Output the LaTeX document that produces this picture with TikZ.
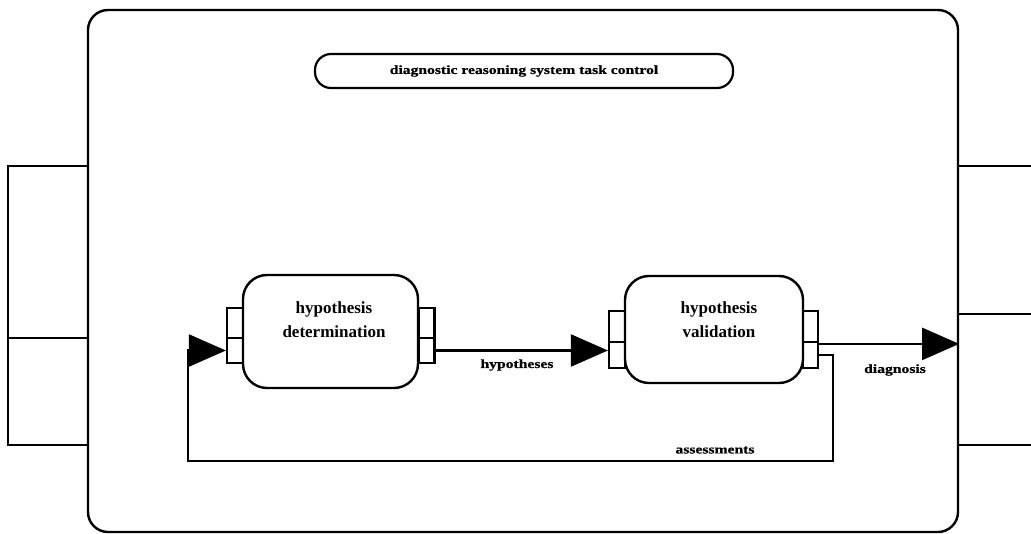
\documentclass[tikz,border=0pt]{standalone}
\usepackage{fontspec}
\setmainfont{Liberation Serif}
\newfontfamily\labfont[FakeStretch=1.25,FakeBold=0.6]{Liberation Serif}
\usetikzlibrary{arrows.meta}
\tikzset{
  frame/.style={draw, line width=2.4pt, rounded corners=20pt},
  proc/.style={draw, line width=2.4pt, rounded corners=24pt, inner sep=0pt},
  porthalf/.style={draw, line width=2.2pt, inner sep=0pt, minimum width=16pt},
  pill/.style={draw, line width=2.2pt, rounded corners=16pt, inner sep=0pt, minimum width=418pt, minimum height=34pt},
  boxtext/.style={align=center, inner sep=0pt, font=\fontsize{17}{24}\selectfont\bfseries},
  flowlabel/.style={inner sep=0pt, font=\labfont\fontsize{12.5}{14}\selectfont\bfseries},
  flow/.style={line width=2.2pt, -{Triangle[length=37pt,width=32pt]}},
  sideline/.style={line width=2.2pt}
}
\begin{document}
\begin{tikzpicture}[x=1pt,y=-1pt]
\useasboundingbox (0,0) rectangle (1031,534);
% outer system frame
\node[frame, minimum width=870pt, minimum height=522pt, inner sep=0pt] (sys) at (523,271) {};
% left side ports
\node[draw, sideline, minimum width=80pt, minimum height=172pt, inner sep=0pt] (inA) at (48,252) {};
\node[draw, sideline, minimum width=80pt, minimum height=107pt, inner sep=0pt] (inB) at (48,391.5) {};
% right side ports (open to the right)
\coordinate (rA) at (958,166);
\coordinate (rB) at (958,314);
\coordinate (rC) at (958,445);
\draw[sideline] (rA) -- (1035,166);
\draw[sideline] (rB) -- (1035,314);
\draw[sideline] (rC) -- (1035,445);
% title
\node[pill, font=\labfont\fontsize{12.5}{14}\selectfont\bfseries] (title) at (524,71) {diagnostic reasoning system task control};
% hypothesis determination
\node[proc, minimum width=175pt, minimum height=113pt] (det) at (330.5,331.5) {};
\node[boxtext] (detT) at (334,320) {hypothesis\\determination};
\node[porthalf, minimum height=30pt] (detL1) at (235,323) {};
\node[porthalf, minimum height=25pt] (detL2) at (235,350.5) {};
\node[porthalf, minimum height=30pt] (detR1) at (426.5,323) {};
\node[porthalf, minimum height=25pt] (detR2) at (426.5,350.5) {};
% hypothesis validation
\node[proc, minimum width=178pt, minimum height=107pt] (val) at (714,329.5) {};
\node[boxtext] (valT) at (719,320) {hypothesis\\validation};
\node[porthalf, minimum height=31pt] (valL1) at (617,326.5) {};
\node[porthalf, minimum height=26pt] (valL2) at (617,355) {};
\node[porthalf, minimum height=31pt, minimum width=15pt] (valR1) at (810.5,326.5) {};
\node[porthalf, minimum height=26pt, minimum width=15pt] (valR2) at (810.5,355) {};
% connectors
\draw[flow] (detR2.east) -- (detR2.east -| valL2.west);
\node[flowlabel] (lhyp) at (517,365) {hypotheses};
\draw[flow] ([yshift=-3pt]valR2.north east) -- ([yshift=-3pt]valR2.north east -| sys.east);
\node[flowlabel] (ldiag) at (895,370) {diagnosis};
\coordinate (fbR) at (833,461);
\coordinate (fbL) at (188,461);
\draw[flow] (valR2.east) -| (fbR) -- (fbL) |- (detL2.west);
\node[flowlabel] (lass) at (715,450) {assessments};
\end{tikzpicture}
\end{document}
